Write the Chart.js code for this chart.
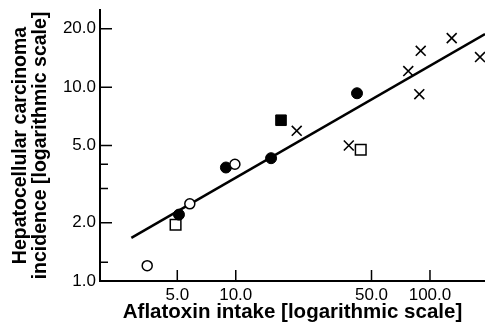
<!DOCTYPE html>
<html>
<head>
<meta charset="utf-8">
<script src="https://cdn.jsdelivr.net/npm/chart.js@4"></script>
<style>
  body { margin: 0; background: #fff; }
  #wrap { width: 485px; height: 326px; }
</style>
</head>
<body>
<div id="wrap"><canvas id="chart" width="485" height="326"></canvas></div>
<script>
// values (both axes logarithmic)
const openCircleX = [3.5, 5.8, 9.9];
const openCircleY = [1.2, 2.5, 4.0];
const filledCircleX = [5.1, 8.9, 15.2, 42.1];
const filledCircleY = [2.2, 3.85, 4.3, 9.3];
const openSquareX = [4.9, 44.0];
const openSquareY = [1.95, 4.75];
const filledSquareX = [17.1];
const filledSquareY = [6.75];
const crossX = [20.6, 38.2, 77.3, 89.6, 88.1, 129.4, 181];
const crossY = [5.95, 5.0, 12.1, 15.4, 9.2, 17.9, 14.3];
const fitX = [2.9, 192];
const fitY = [1.67, 18.8];

const xTickLabels = [5, 10, 50, 100];
const yTickLabels = [1, 2, 5, 10, 20];
const yMinorTicks = [1.25, 3, 4];

const toPoints = (xs, ys) => xs.map((x, i) => ({ x: x, y: ys[i] }));

// inward tick marks, drawn from the scales
const tickMarks = {
    id: 'tickMarks',
    afterDraw(chart) {
        const ctx = chart.ctx;
        const xs = chart.scales.x;
        const ys = chart.scales.y;
        const area = chart.chartArea;
        ctx.save();
        ctx.strokeStyle = '#000';
        ctx.lineWidth = 1.5;
        ctx.beginPath();
        xTickLabels.forEach((v) => {
            const px = xs.getPixelForValue(v);
            ctx.moveTo(px, area.bottom);
            ctx.lineTo(px, area.bottom - 11);
        });
        yTickLabels.forEach((v) => {
            const py = ys.getPixelForValue(v);
            ctx.moveTo(area.left, py);
            ctx.lineTo(area.left + 12, py);
        });
        yMinorTicks.forEach((v) => {
            const py = ys.getPixelForValue(v);
            ctx.moveTo(area.left, py);
            ctx.lineTo(area.left + 8, py);
        });
        ctx.stroke();
        ctx.restore();
    }
};

const ctx = document.getElementById('chart').getContext('2d');

let chart = new Chart(ctx, {
    type: 'scatter',
    data: {
        datasets: [
            {
                label: 'open circles',
                data: toPoints(openCircleX, openCircleY),
                pointStyle: 'circle',
                pointRadius: 5,
                backgroundColor: '#fff',
                borderColor: '#000',
                borderWidth: 1.5
            },
            {
                label: 'filled circles',
                data: toPoints(filledCircleX, filledCircleY),
                pointStyle: 'circle',
                pointRadius: 5.5,
                backgroundColor: '#000',
                borderColor: '#000',
                borderWidth: 1
            },
            {
                label: 'open squares',
                data: toPoints(openSquareX, openSquareY),
                pointStyle: 'rect',
                pointRadius: 7.5,
                backgroundColor: '#fff',
                borderColor: '#000',
                borderWidth: 1.5
            },
            {
                label: 'filled squares',
                data: toPoints(filledSquareX, filledSquareY),
                pointStyle: 'rect',
                pointRadius: 7.5,
                backgroundColor: '#000',
                borderColor: '#000',
                borderWidth: 1
            },
            {
                label: 'crosses',
                data: toPoints(crossX, crossY),
                pointStyle: 'crossRot',
                pointRadius: 7,
                borderColor: '#000',
                borderWidth: 1.6
            },
            {
                label: 'fit',
                data: toPoints(fitX, fitY),
                showLine: true,
                pointRadius: 0,
                borderColor: '#000',
                borderWidth: 2.5
            }
        ]
    },
    options: {
        responsive: false,
        animation: false,
        layout: { padding: 0, autoPadding: false },
        plugins: {
            legend: { display: false },
            tooltip: { enabled: false }
        },
        scales: {
            x: {
                type: 'logarithmic',
                min: 2,
                max: 192,
                grid: { display: false, drawTicks: false },
                border: { display: true, color: '#000', width: 2 },
                afterBuildTicks: (scale) => {
                    scale.ticks = xTickLabels.map((v) => ({ value: v }));
                },
                afterFit: (scale) => {
                    scale.height = 45;
                    scale.paddingLeft = 0;
                    scale.paddingRight = 0;
                },
                ticks: {
                    autoSkip: false,
                    maxRotation: 0,
                    padding: 4,
                    color: '#000',
                    font: { family: '"Liberation Sans", Arial, sans-serif', size: 17 },
                    callback: (v) => Number(v).toFixed(1)
                },
                title: {
                    display: true,
                    text: 'Aflatoxin intake [logarithmic scale]',
                    color: '#000',
                    padding: { top: 0, bottom: 1 },
                    font: { family: '"Liberation Sans", Arial, sans-serif', size: 20.5, weight: 'bold' }
                }
            },
            y: {
                type: 'logarithmic',
                min: 1,
                max: 25,
                grid: { display: false, drawTicks: false },
                border: { display: true, color: '#000', width: 2 },
                afterBuildTicks: (scale) => {
                    scale.ticks = yTickLabels.concat(yMinorTicks)
                        .sort((a, b) => a - b)
                        .map((v) => ({ value: v }));
                },
                afterFit: (scale) => {
                    scale.width = 100;
                    scale.paddingTop = 10;
                    scale.paddingBottom = 0;
                },
                ticks: {
                    autoSkip: false,
                    padding: 4,
                    color: '#000',
                    font: { family: '"Liberation Sans", Arial, sans-serif', size: 17 },
                    callback: (v) => yTickLabels.includes(Number(v)) ? Number(v).toFixed(1) : ''
                },
                title: {
                    display: true,
                    text: ['Hepatocellular carcinoma', 'incidence [logarithmic scale]'],
                    color: '#000',
                    padding: { top: 11, bottom: 0 },
                    font: { family: '"Liberation Sans", Arial, sans-serif', size: 19.5, weight: 'bold', lineHeight: 1.0 }
                }
            }
        }
    },
    plugins: [tickMarks]
});
</script>
</body>
</html>
